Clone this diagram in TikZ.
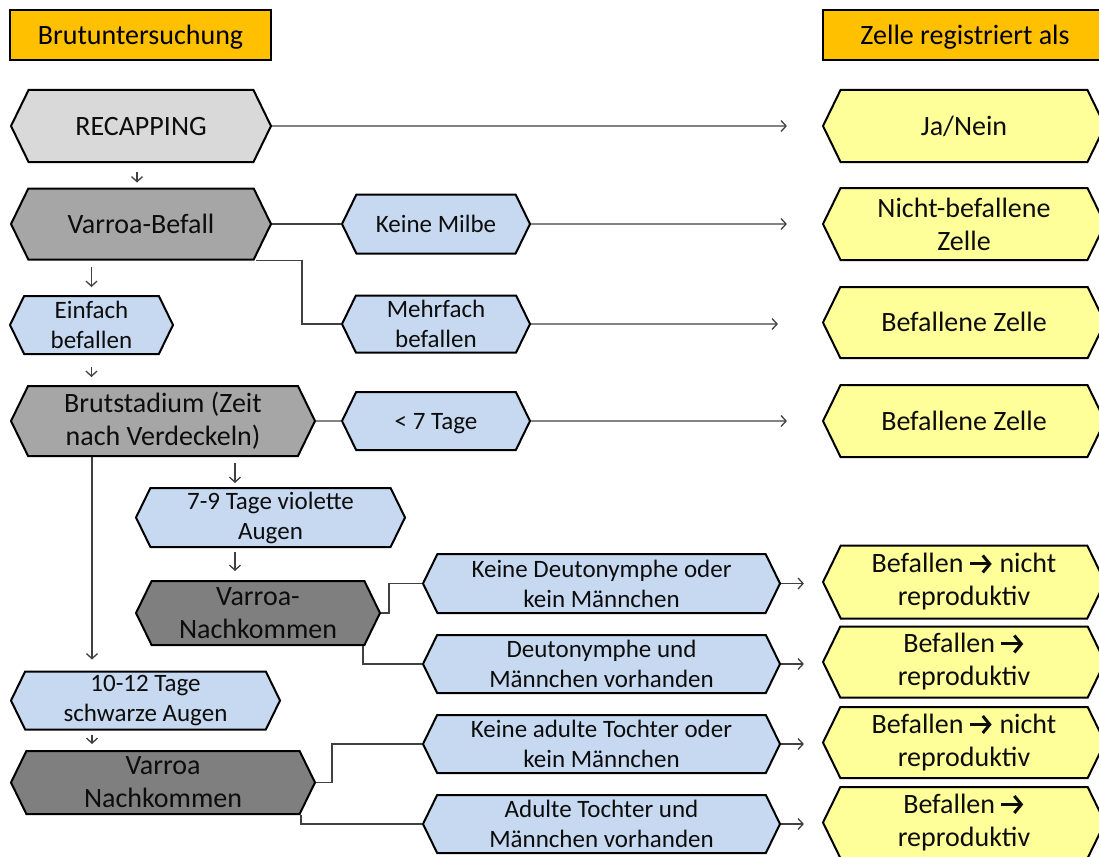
\documentclass[tikz,border=0pt]{standalone}
\usepackage{fontspec}
\setmainfont{Carlito}
\usetikzlibrary{positioning}
\usetikzlibrary{shapes.symbols}
\usetikzlibrary{arrows.meta}
\definecolor{hdrorange}{HTML}{FFC000}
\definecolor{greylight}{HTML}{D9D9D9}
\definecolor{greymid}{HTML}{A6A6A6}
\definecolor{greydark}{HTML}{7F7F7F}
\definecolor{stepblue}{HTML}{C6D9F1}
\definecolor{resultyellow}{HTML}{FFFF99}
\definecolor{linegrey}{HTML}{404040}
\newcommand{\hstrut}{\rule[-0.27em]{0pt}{1.19em}}
\newcommand{\pfeil}{\,\tikz[baseline=0pt]\draw[line width=3pt,
  -{Straight Barb[length=7pt,width=17pt,line width=3pt]}] (0pt,9pt) -- (22pt,9pt);}

\begin{document}
\begin{tikzpicture}
  [
    x=1pt,y=-1pt,
    bigtext/.style={font=\fontsize{28}{33}\selectfont},
    smalltext/.style={font=\fontsize{25}{30}\selectfont},
    header/.style={
      rectangle,
      draw,
      line width=2pt,
      fill=hdrorange,
      bigtext,
      minimum height=50pt
    },
    hexbox/.style={
      signal,
      signal to=west and east,
      signal pointer angle=128,
      draw,
      line width=2pt,
      inner sep=1pt,
      align=center,
      text=black!95
    },
    recapbox/.style={hexbox,fill=greylight,bigtext},
    testbox/.style={hexbox,fill=greymid,bigtext},
    offspringbox/.style={hexbox,fill=greydark,bigtext},
    stepbox/.style={hexbox,fill=stepblue,smalltext},
    resultbox/.style={hexbox,fill=resultyellow,bigtext,minimum width=282pt},
    conn/.style={draw=linegrey,line width=1.3pt},
    arrow/.style={conn,-{Straight Barb[length=5pt,width=11pt]}},
  ]
  \fill[white] (0,0) rectangle (1099,856);
  \useasboundingbox (0,0) rectangle (1099,856);

  % headers
  \node[header,minimum width=261pt] (hdrbrut)  at (140.5,35) {\hstrut Brutuntersuchung\hstrut};
  \node[header,minimum width=284pt] (hdrzelle) at (965,35)   {\hstrut Zelle registriert als\hstrut};

  % left column
  \node[recapbox,minimum width=260pt,minimum height=72pt]     (recap)    at (141,126)   {\hstrut RECAPPING\hstrut};
  \node[testbox,minimum width=260pt,minimum height=71pt]      (vbefall)  at (141,224)   {\hstrut Varroa-Befall\hstrut};
  \node[stepbox,minimum width=163pt,minimum height=58pt]      (einfach)  at (91.5,325)  {Einfach\\befallen};
  \node[testbox,minimum width=304pt,minimum height=70pt]      (brut)     at (163,421)   {Brutstadium (Zeit\\nach Verdeckeln)};
  \node[stepbox,minimum width=269pt,minimum height=59pt]      (tage79)   at (270.5,517.5) {7-9 Tage violette\\Augen};
  \node[offspringbox,minimum width=244pt,minimum height=64pt] (vnach1)   at (258,613)   {Varroa-\\Nachkommen};
  \node[stepbox,minimum width=269pt,minimum height=58pt]      (tage1012) at (145.5,700.5) {10-12 Tage\\schwarze Augen};
  \node[offspringbox,minimum width=304pt,minimum height=63pt] (vnach2)   at (163,782.5) {Varroa\\Nachkommen};

  % middle column
  \node[stepbox,minimum width=188pt,minimum height=59pt] (keinemilbe) at (436,224) {\hstrut Keine Milbe\hstrut};
  \node[stepbox,minimum width=188pt,minimum height=57pt] (mfach)      at (436,324) {Mehrfach\\befallen};
  \node[stepbox,minimum width=188pt,minimum height=58pt] (lt7)        at (436,421) {\hstrut < 7 Tage\hstrut};
  \node[stepbox,minimum width=357pt,minimum height=59pt] (kdeut)      at (601.5,583.5) {Keine Deutonymphe oder\\kein Männchen};
  \node[stepbox,minimum width=357pt,minimum height=58pt] (deut)       at (601.5,664)   {Deutonymphe und\\Männchen vorhanden};
  \node[stepbox,minimum width=357pt,minimum height=58pt] (katoch)     at (601.5,744)   {Keine adulte Tochter oder\\kein Männchen};
  \node[stepbox,minimum width=357pt,minimum height=58pt] (atoch)      at (601.5,824)   {Adulte Tochter und\\Männchen vorhanden};

  % right column
  \node[resultbox,minimum height=72pt] (janein)   at (964,126)   {\hstrut Ja/Nein\hstrut};
  \node[resultbox,minimum height=72pt] (nichtbef) at (964,224)   {Nicht-befallene\\Zelle};
  \node[resultbox,minimum height=71pt] (bef1)     at (964,322.5) {\hstrut Befallene Zelle\hstrut};
  \node[resultbox,minimum height=72pt] (bef2)     at (964,421)   {\hstrut Befallene Zelle\hstrut};
  \node[resultbox,minimum height=73pt] (res1)     at (964,582)   {Befallen\pfeil\ nicht\\reproduktiv};
  \node[resultbox,minimum height=71pt] (res2)     at (964,662)   {Befallen\pfeil\\reproduktiv};
  \node[resultbox,minimum height=71pt] (res3)     at (964,742.5) {Befallen\pfeil\ nicht\\reproduktiv};
  \node[resultbox,minimum height=71pt] (res4)     at (964,822.5) {Befallen\pfeil\\reproduktiv};

  % short arrows down the left side
  \draw[arrow,shorten <=9pt,shorten >=5pt] (recap.south -| 137,0) -- (vbefall.north -| 137,0);
  \draw[arrow,shorten <=6pt,shorten >=8pt] (vbefall.south -| einfach.north) -- (einfach.north);
  \draw[arrow,shorten <=12pt,shorten >=8pt] (einfach) -- (brut.north -| einfach.south);
  \coordinate (a79) at ([xshift=-35.5pt]tage79.north);
  \draw[arrow,shorten <=6pt,shorten >=4pt] (brut.south -| a79) -- (a79);
  \draw[arrow,shorten <=4pt,shorten >=9pt] (tage79.south -| a79) -- (vnach1.north -| a79);
  \draw[arrow,shorten >=11pt] (brut.south -| 92,0) -- (tage1012.north -| 92,0);
  \draw[arrow,shorten <=4pt,shorten >=6pt] (tage1012.south -| 92,0) -- (vnach2.north -| 92,0);

  % branches
  \draw[conn] (vbefall) -- (keinemilbe);
  \draw[conn] (vbefall.south -| vbefall.east) ++(-16,0) -- ++(46,0) |- (mfach.west);
  \draw[conn] (brut) -- (lt7);
  \draw[conn] (vnach1.east) -- ++(8,0) |- (kdeut.west);
  \draw[conn] (vnach1.south -| vnach1.east) ++(-18,0) |- (deut.west);
  \draw[conn] (vnach2.east) -- ++(16,0) |- (katoch.west);
  \draw[conn] (vnach2.south -| vnach2.east) ++(-15,0) |- (atoch.west);

  % arrows to the results
  \draw[arrow,shorten >=35pt] (recap) -- (janein);
  \draw[arrow,shorten >=35pt] (keinemilbe) -- (nichtbef.west |- keinemilbe);
  \draw[arrow,shorten >=44pt] (mfach) -- (bef1.west |- mfach);
  \draw[arrow,shorten >=35pt] (lt7) -- (bef2);
  \draw[arrow,shorten >=18pt] (kdeut.east) -- (kdeut.east -| res1.west);
  \draw[arrow,shorten >=18pt] (deut.east) -- (deut.east -| res2.west);
  \draw[arrow,shorten >=18pt] (katoch.east) -- (katoch.east -| res3.west);
  \draw[arrow,shorten >=18pt] (atoch.east) -- (atoch.east -| res4.west);
\end{tikzpicture}
\end{document}
